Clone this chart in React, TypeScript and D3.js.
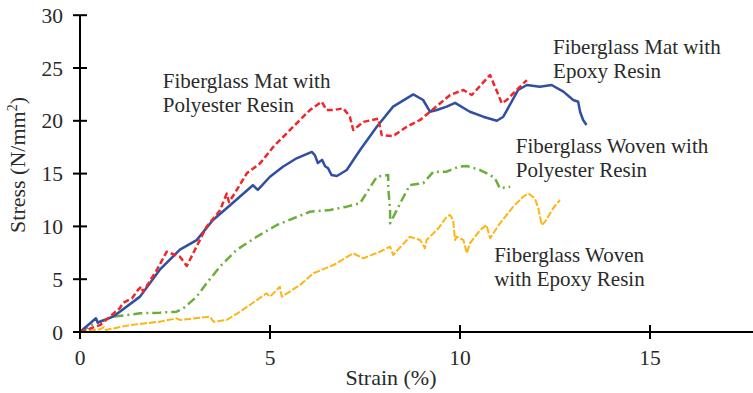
import React from "react";
import * as d3 from "d3";

const xTicks = [0, 5, 10, 15];
const yTicks = [0, 5, 10, 15, 20, 25, 30];

// Fiberglass Mat with Epoxy Resin (blue, solid)
const matEpoxyStrain = [0, 0.42, 0.47, 0.87, 1.58, 2.1, 2.63, 3.07, 3.5, 3.95, 4.55, 4.68, 5.0, 5.34, 5.7, 6.1, 6.18, 6.26, 6.37, 6.45, 6.53, 6.62, 6.76, 7.02, 7.37, 7.81, 8.24, 8.77, 9.03, 9.21, 9.39, 9.65, 9.87, 10.26, 10.61, 10.97, 11.14, 11.53, 11.76, 12.1, 12.41, 12.72, 12.98, 13.11, 13.16, 13.24, 13.33];
const matEpoxyStress = [0, 1.3, 0.88, 1.45, 3.35, 5.9, 7.8, 8.7, 10.6, 12.0, 13.9, 13.45, 14.7, 15.65, 16.45, 17.05, 16.75, 16.0, 16.3, 15.7, 15.5, 14.87, 14.77, 15.34, 17.23, 19.44, 21.34, 22.5, 21.97, 20.86, 21.02, 21.34, 21.7, 20.86, 20.39, 20.0, 20.39, 22.92, 23.39, 23.23, 23.39, 22.76, 21.97, 21.8, 20.86, 20.08, 19.6];

// Fiberglass Mat with Polyester Resin (red, dashed)
const matPolyStrain = [0, 0.53, 1.05, 1.13, 1.37, 1.53, 1.62, 1.66, 2.02, 2.28, 2.63, 2.81, 3.33, 3.68, 3.86, 3.92, 4.1, 4.39, 4.74, 5.09, 5.35, 5.7, 6.05, 6.36, 6.49, 6.67, 6.93, 7.1, 7.19, 7.46, 7.85, 7.94, 8.24, 8.6, 8.95, 9.21, 9.74, 10.09, 10.31, 10.79, 10.92, 11.1, 11.23, 11.49, 11.76];
const matPolyStress = [0, 0.66, 2.27, 2.75, 3.2, 4.0, 4.3, 3.8, 5.87, 7.6, 7.13, 6.25, 9.97, 11.5, 13.1, 12.3, 13.3, 15.03, 15.97, 17.55, 18.49, 19.76, 21.02, 21.8, 21.02, 21.02, 21.18, 20.39, 19.13, 19.9, 20.2, 18.65, 18.56, 19.44, 20.08, 20.86, 22.44, 22.92, 22.44, 24.34, 23.23, 21.66, 21.97, 22.92, 23.86];

// Fiberglass Woven with Polyester Resin (green, dash-dot)
const wovPolyStrain = [0, 0.39, 0.87, 1.58, 2.1, 2.54, 2.72, 3.07, 3.33, 3.68, 4.12, 4.65, 5.18, 6.05, 6.58, 7.02, 7.37, 7.81, 8.11, 8.11, 8.16, 8.16, 8.47, 8.68, 9.03, 9.3, 9.65, 9.96, 10.18, 10.53, 10.79, 10.92, 11.05, 11.32];
const wovPolyStress = [0, 0.82, 1.45, 1.77, 1.83, 1.92, 2.24, 3.34, 4.61, 6.18, 7.77, 9.02, 10.13, 11.39, 11.55, 11.87, 12.19, 14.7, 14.87, 13.76, 11.55, 10.29, 12.5, 13.92, 14.08, 15.18, 15.18, 15.65, 15.72, 15.34, 14.87, 14.55, 13.6, 13.76];

// Fiberglass Woven with Epoxy Resin (yellow, dashed)
const wovEpoxyStrain = [0, 0.53, 0.63, 0.68, 1.32, 2.1, 2.54, 2.63, 3.42, 3.51, 3.86, 4.21, 4.47, 4.91, 5.0, 5.26, 5.31, 5.79, 6.14, 6.67, 7.19, 7.46, 7.89, 8.16, 8.24, 8.68, 8.95, 9.08, 9.12, 9.43, 9.65, 9.74, 9.82, 9.87, 9.91, 10.09, 10.18, 10.26, 10.53, 10.7, 10.79, 11.05, 11.4, 11.66, 11.8, 11.97, 12.06, 12.15, 12.24, 12.45, 12.63];
const wovEpoxyStress = [0, 0.26, 0.47, 0.19, 0.66, 0.98, 1.3, 1.14, 1.45, 0.98, 1.14, 1.92, 2.56, 3.66, 3.34, 4.29, 3.34, 4.45, 5.56, 6.34, 7.45, 6.98, 7.6, 8.08, 7.29, 9.02, 8.71, 7.93, 8.71, 9.82, 10.92, 11.08, 10.6, 8.71, 9.02, 8.71, 7.45, 8.4, 9.66, 10.13, 8.87, 10.29, 11.87, 12.81, 13.13, 12.66, 11.71, 10.13, 10.45, 11.71, 12.5];

const labels = [
  { lines: ["Fiberglass Mat with", "Polyester Resin"], sx: 2.18, sy: 23.1 },
  { lines: ["Fiberglass Mat with", "Epoxy Resin"], sx: 12.45, sy: 26.3 },
  { lines: ["Fiberglass Woven with", "Polyester Resin"], sx: 11.47, sy: 16.95 },
  { lines: ["Fiberglass Woven", "with Epoxy Resin"], sx: 10.9, sy: 6.66 },
];

export default function App() {
  const W = 753, H = 393;
  const x = d3.scaleLinear().domain([0, 18]).range([80, 80 + 18 * 38]);
  const y = d3.scaleLinear().domain([0, 30]).range([332, 15.2]);
  const line = d3.line<[number, number]>().x(d => x(d[0])).y(d => y(d[1]));
  const zip = (a: number[], b: number[]) => a.map((v, i) => [v, b[i]] as [number, number]);
  const font = "'Liberation Serif', 'Times New Roman', serif";
  const txt = "#2a2a2a";
  const series = [
    { d: zip(wovEpoxyStrain, wovEpoxyStress), color: "#FDB515", w: 2, dash: "7,2" },
    { d: zip(wovPolyStrain, wovPolyStress), color: "#6AAF3A", w: 2.5, dash: "9,4,2,4" },
    { d: zip(matEpoxyStrain, matEpoxyStress), color: "#2E4FA3", w: 2.5, dash: undefined },
    { d: zip(matPolyStrain, matPolyStress), color: "#F0262A", w: 2.5, dash: "6,3" },
  ];
  return (
    <svg width={W} height={H} style={{ position: "absolute", left: 0, top: 0, background: "#fff" }} fontFamily={font}>
      <rect width={W} height={H} fill="#fff" />
      {series.map((s, i) => (
        <path key={i} d={line(s.d) || ""} fill="none" stroke={s.color} strokeWidth={s.w}
          strokeDasharray={s.dash} strokeLinejoin="round" />
      ))}
      {/* axes */}
      <line x1={x(0)} x2={W} y1={y(0)} y2={y(0)} stroke="#000" strokeWidth={2} />
      <line x1={x(0)} x2={x(0)} y1={y(30)} y2={y(0)} stroke="#000" strokeWidth={2} />
      {yTicks.map(t => (
        <g key={"y" + t}>
          <line x1={x(0) - 7} x2={x(0) + 7} y1={y(t)} y2={y(t)} stroke="#000" strokeWidth={2} />
          <text x={63} y={y(t)} dy="0.35em" textAnchor="end" fontSize={21.5} fill={txt}>{t}</text>
        </g>
      ))}
      {xTicks.map(t => (
        <g key={"x" + t}>
          <line x1={x(t)} x2={x(t)} y1={y(0) - 7} y2={y(0) + 7} stroke="#000" strokeWidth={2} />
          <text x={x(t)} y={365} textAnchor="middle" fontSize={21.5} fill={txt}>{t}</text>
        </g>
      ))}
      <text x={391} y={385} textAnchor="middle" fontSize={22} fill={txt}>Strain (%)</text>
      <text transform="translate(25,165) rotate(-90)" textAnchor="middle" fontSize={22} fill={txt}>
        Stress (N/mm<tspan dy="-8" fontSize={14}>2</tspan><tspan dy="8">)</tspan>
      </text>
      {labels.map((l, i) => (
        <text key={i} x={x(l.sx)} y={y(l.sy)} fontSize={21} fill={txt}>
          {l.lines.map((ln, j) => (
            <tspan key={j} x={x(l.sx)} dy={j === 0 ? 0 : 24}>{ln}</tspan>
          ))}
        </text>
      ))}
    </svg>
  );
}
